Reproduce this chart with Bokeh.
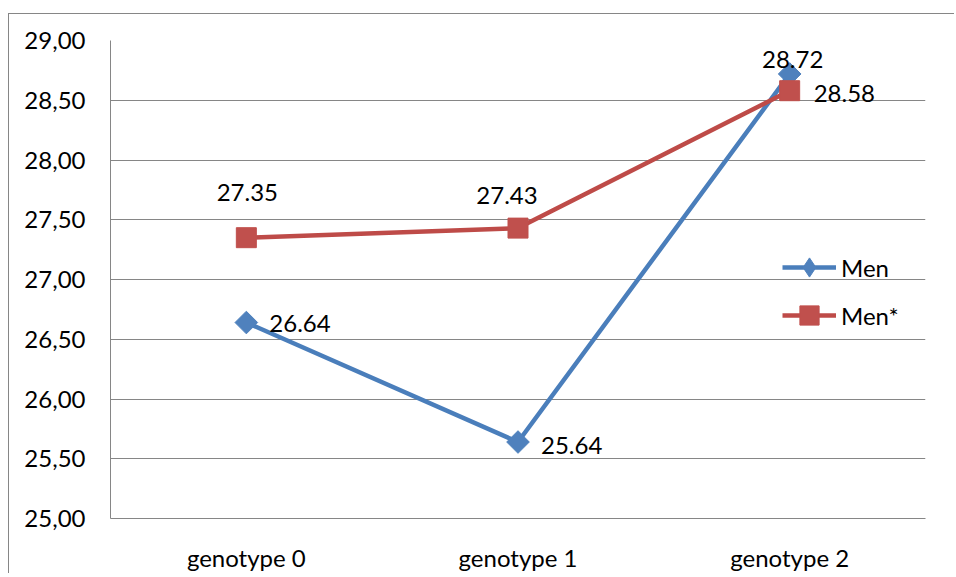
import math
from bokeh.plotting import figure
from bokeh.models import FactorRange, Range1d, CustomJSTickFormatter, Legend, LegendItem, FixedTicker
from bokeh.core.properties import value
from bokeh.embed import file_html
from bokeh.resources import INLINE

categories = ["genotype 0", "genotype 1", "genotype 2"]
men = [26.64, 25.64, 28.72]
men_star = [27.35, 27.43, 28.58]
men_labels = ["26.64", "25.64", "28.72"]
men_star_labels = ["27.35", "27.43", "28.58"]
y_ticks = [25.0, 25.5, 26.0, 26.5, 27.0, 27.5, 28.0, 28.5, 29.0]

FONT = "Lato"
FS = "24px"
GRID = "#868686"
BLUE_LINE = "#4A7EBB"
BLUE = "#4F81BD"
RED_LINE = "#BE4B48"
RED = "#C0504D"

p = figure(
    x_range=FactorRange(*categories, range_padding=0),
    y_range=Range1d(25, 29),
    width=946, height=560,
    output_backend="svg", toolbar_location=None,
    min_border_left=101, min_border_right=30, min_border_top=26, min_border_bottom=56,
)
p.styles = {"border-left": f"1px solid {GRID}", "border-top": f"1px solid {GRID}",
            "margin-top": "13px", "margin-left": "8px"}
p.outline_line_color = None
p.xgrid.grid_line_color = None
p.ygrid.grid_line_color = GRID
p.ygrid.grid_line_width = 1

p.yaxis.ticker = FixedTicker(ticks=y_ticks)
p.yaxis.formatter = CustomJSTickFormatter(code="return tick.toFixed(2).replace('.', ',');")
for ax in (p.xaxis, p.yaxis):
    ax.axis_line_color = GRID
    ax.major_tick_line_color = None
    ax.minor_tick_line_color = None
    ax.major_tick_out = 0
    ax.major_tick_in = 0
    ax.major_label_text_font = FONT
    ax.major_label_text_font_size = FS
    ax.major_label_text_color = "black"
p.yaxis.major_label_standoff = 25
p.xaxis.major_label_standoff = 24

l1 = p.line(categories, men, line_color=BLUE_LINE, line_width=4.5)
s1 = p.scatter(categories, men, marker="square", angle=math.pi / 4, size=16,
               fill_color=BLUE, line_color=BLUE)
l2 = p.line(categories, men_star, line_color=RED_LINE, line_width=4.5)
s2 = p.scatter(categories, men_star, marker="square", size=20,
               fill_color=RED, line_color=RED)

# legend-only marker (narrow diamond like the reference legend); NaN y so nothing is plotted
lg1 = p.scatter(x=[categories[0]], y=[float("nan")], marker="diamond",
                fill_color=BLUE, line_color=BLUE)

# data labels (per-point offsets in screen pixels)
def label(x, y, t, dx, dy, align):
    p.text(x=[x], y=[y], text=[t], x_offset=dx, y_offset=dy, text_align=align,
           text_baseline="middle", text_font=value(FONT), text_font_size=FS,
           text_color="black")

label(categories[0], men[0], men_labels[0], 23, 1, "left")
label(categories[1], men[1], men_labels[1], 23, 3, "left")
label(categories[2], men[2], men_labels[2], 3, -14, "center")
label(categories[0], men_star[0], men_star_labels[0], 1, -45, "center")
label(categories[1], men_star[1], men_star_labels[1], -11, -33, "center")
label(categories[2], men_star[2], men_star_labels[2], 24, 3, "left")

legend = Legend(
    items=[LegendItem(label="Men", renderers=[l1, lg1]),
           LegendItem(label="Men*", renderers=[l2, s2])],
    location=(672, 179),
    border_line_color=None, background_fill_alpha=0,
    glyph_width=54, glyph_height=48, label_height=48, spacing=0,
    padding=0, margin=0, label_standoff=5,
    label_text_font=FONT, label_text_font_size=FS, label_text_color="black",
)
p.add_layout(legend)

open("out.html", "w").write(file_html(p, INLINE))
